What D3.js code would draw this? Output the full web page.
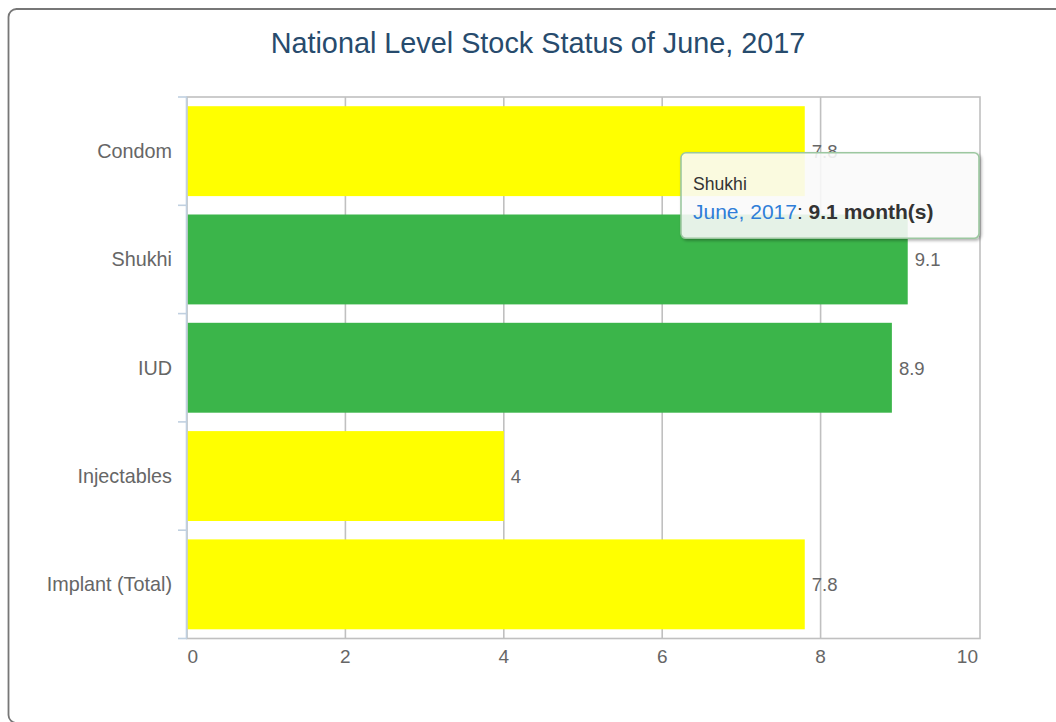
<!DOCTYPE html>
<html>
<head>
<meta charset="utf-8">
<script src="https://cdn.jsdelivr.net/npm/d3@7"></script>
<style>
  html, body { margin: 0; padding: 0; background: #fff; overflow: hidden; }
  svg { display: block; font-family: "Liberation Sans", Arial, Helvetica, sans-serif; }
</style>
</head>
<body>
<svg id="chart" width="1056" height="722"></svg>
<script>
const categories = ["Condom", "Shukhi", "IUD", "Injectables", "Implant (Total)"];
const values = [7.8, 9.1, 8.9, 4, 7.8];
const status = ["low", "ok", "ok", "low", "low"];
const xTicks = [0, 2, 4, 6, 8, 10];
const chartTitle = "National Level Stock Status of June, 2017";
const period = "June, 2017";
const unit = "month(s)";
const tooltipIndex = 1;

const svg = d3.select("#chart");
const plot = { left: 187, top: 97, right: 979, bottom: 638.5 };

const color = d3.scaleOrdinal().domain(["low", "ok"]).range(["#ffff00", "#3bb54a"]);

const x = d3.scaleLinear().domain([0, 10]).range([plot.left, plot.right]);
const y = d3.scaleBand().domain(categories).range([plot.top, plot.bottom]).padding(0);
const inset = 9.2;

// outer border
svg.append("rect")
  .attr("x", 8.5).attr("y", 9).attr("width", 1070).attr("height", 714)
  .attr("rx", 8).attr("ry", 8)
  .attr("fill", "#fff").attr("stroke", "#777").attr("stroke-width", 1.8);

// title
svg.append("text")
  .attr("x", 538).attr("y", 53)
  .attr("text-anchor", "middle")
  .attr("fill", "#274b6d")
  .attr("font-size", "28.8px")
  .text(chartTitle);

// gridlines
svg.append("g").selectAll("line")
  .data(xTicks.filter(d => d !== 0 && d !== 10))
  .join("line")
  .attr("x1", d => x(d)).attr("x2", d => x(d))
  .attr("y1", plot.top).attr("y2", plot.bottom)
  .attr("stroke", "#c0c0c0").attr("stroke-width", 1.6);

// plot border
svg.append("rect")
  .attr("x", plot.left).attr("y", plot.top)
  .attr("width", plot.right + 1 - plot.left).attr("height", plot.bottom - plot.top)
  .attr("fill", "none").attr("stroke", "#c0c0c0").attr("stroke-width", 1.6);

// bars
svg.append("g").selectAll("rect")
  .data(categories)
  .join("rect")
  .attr("x", x(0) + 0.8)
  .attr("y", d => y(d) + inset)
  .attr("width", (d, i) => x(values[i]) - x(0) - 0.8)
  .attr("height", y.bandwidth() - 2 * inset)
  .attr("fill", (d, i) => color(status[i]));

// category axis (left)
const yAxisG = svg.append("g");
yAxisG.append("line")
  .attr("x1", plot.left - 0.5).attr("x2", plot.left - 0.5)
  .attr("y1", plot.top).attr("y2", plot.bottom)
  .attr("stroke", "#c0d0e0").attr("stroke-width", 1.6);
const boundaries = categories.map(c => y(c)).concat([plot.bottom]);
yAxisG.selectAll("line.tick")
  .data(boundaries)
  .join("line")
  .attr("class", "tick")
  .attr("x1", plot.left - 9).attr("x2", plot.left)
  .attr("y1", d => d).attr("y2", d => d)
  .attr("stroke", "#c0d0e0").attr("stroke-width", 1.6);
yAxisG.selectAll("text")
  .data(categories)
  .join("text")
  .attr("x", 172)
  .attr("y", d => y(d) + y.bandwidth() / 2 + 7)
  .attr("text-anchor", "end")
  .attr("fill", "#666")
  .attr("font-size", "19.8px")
  .text(d => d);

// value axis labels (bottom)
svg.append("g").selectAll("text")
  .data(xTicks)
  .join("text")
  .attr("x", (d, i) => i === 0 ? x(d) + 0.5 : (i === xTicks.length - 1 ? x(d) - 1 : x(d)))
  .attr("y", 663)
  .attr("text-anchor", (d, i) => i === 0 ? "start" : (i === xTicks.length - 1 ? "end" : "middle"))
  .attr("fill", "#666")
  .attr("font-size", "19px")
  .text(d => d);

// data labels
svg.append("g").selectAll("text")
  .data(categories)
  .join("text")
  .attr("x", (d, i) => x(values[i]) + 7)
  .attr("y", d => y(d) + y.bandwidth() / 2 + 7)
  .attr("fill", "#666")
  .attr("font-size", "18.5px")
  .text((d, i) => String(values[i]));

// tooltip
const defs = svg.append("defs");
const f = defs.append("filter").attr("id", "shadow").attr("x", "-10%").attr("y", "-10%").attr("width", "130%").attr("height", "140%");
f.append("feDropShadow").attr("dx", 1.6).attr("dy", 1.6).attr("stdDeviation", 1.6)
  .attr("flood-color", "#000").attr("flood-opacity", 0.35);

const tipCat = categories[tooltipIndex];
const tx = 681, ty = y(tipCat) - 52.5, tw = 298, th = 85.5;
const tip = svg.append("g");
tip.append("rect")
  .attr("x", tx).attr("y", ty).attr("width", tw).attr("height", th)
  .attr("rx", 5).attr("ry", 5)
  .attr("fill", "rgba(255,255,255,0.85)")
  .attr("stroke", "#9cc7a0").attr("stroke-width", 1.6)
  .attr("filter", "url(#shadow)");
tip.append("text")
  .attr("x", tx + 12).attr("y", ty + 37)
  .attr("fill", "#333")
  .attr("font-size", "17.6px")
  .text(tipCat);
const body = tip.append("text")
  .attr("x", tx + 12).attr("y", ty + 66)
  .attr("fill", "#333")
  .attr("font-size", "21px");
body.append("tspan").attr("fill", "#2f7ed8").text(period);
body.append("tspan").text(": ");
body.append("tspan").attr("font-weight", "bold").text(values[tooltipIndex] + " " + unit);
</script>
</body>
</html>
